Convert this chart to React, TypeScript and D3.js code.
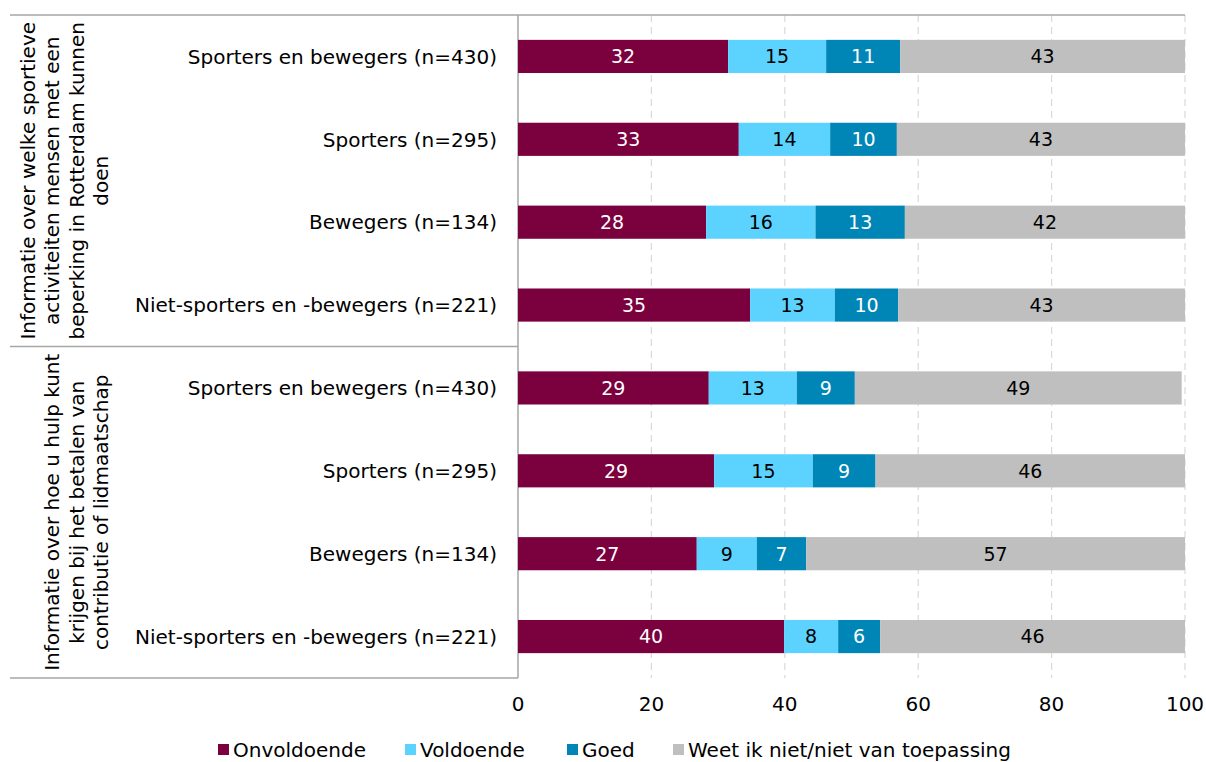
import React from 'react';
import * as d3 from 'd3';

const categories = [
  'Sporters en bewegers (n=430)',
  'Sporters (n=295)',
  'Bewegers (n=134)',
  'Niet-sporters en -bewegers (n=221)',
  'Sporters en bewegers (n=430)',
  'Sporters (n=295)',
  'Bewegers (n=134)',
  'Niet-sporters en -bewegers (n=221)',
];

const groupLabels = [
  ['Informatie over welke sportieve', 'activiteiten mensen met een', 'beperking in Rotterdam kunnen', 'doen'],
  ['Informatie over hoe u hulp kunt', 'krijgen bij het betalen van', 'contributie of lidmaatschap'],
];

const seriesNames = ['Onvoldoende', 'Voldoende', 'Goed', 'Weet ik niet/niet van toepassing'];
const seriesColors = ['#7B003E', '#5CD3FF', '#0086B6', '#BFBFBF'];
const labelColors = ['#FFFFFF', '#000000', '#FFFFFF', '#000000'];

const onvoldoende = [31.5, 33.1, 28.2, 34.8, 28.6, 29.4, 26.8, 39.9];
const voldoende = [14.7, 13.7, 16.4, 12.7, 13.2, 14.8, 9.0, 8.1];
const goed = [11.1, 10.0, 13.4, 9.5, 8.7, 9.4, 7.4, 6.3];
const weetNiet = [42.7, 43.2, 42.0, 43.0, 49.0, 46.4, 56.8, 45.7];

const ticks = [0, 20, 40, 60, 80, 100];

const FONT = '"DejaVu Sans", sans-serif';

export default function App() {
  const width = 1206;
  const height = 762;
  const left = 518;
  const right = 1185;
  const top = 15;
  const bottom = 678;

  const rows = categories.map((c, i) => ({
    key: String(i),
    [seriesNames[0]]: onvoldoende[i],
    [seriesNames[1]]: voldoende[i],
    [seriesNames[2]]: goed[i],
    [seriesNames[3]]: weetNiet[i],
  }));

  const stacked = d3.stack<any>().keys(seriesNames)(rows);

  const x = d3.scaleLinear().domain([0, 100]).range([left, right]);
  const y = d3
    .scaleBand<string>()
    .domain(rows.map((r) => r.key))
    .range([top, bottom])
    .paddingInner(0.6)
    .paddingOuter(0.3);

  const groupEdge = d3.scaleLinear().domain([0, groupLabels.length]).range([top, bottom]);

  // legend layout
  const legendX = [218, 405, 567, 673];
  const legendY = 750;

  return (
    <svg
      width={width}
      height={height}
      style={{ position: 'absolute', left: 0, top: 0, background: '#fff' }}
      fontFamily={FONT}
    >
      {/* gridlines */}
      {ticks.slice(1).map((t) => (
        <line
          key={t}
          x1={x(t)}
          x2={x(t)}
          y1={top}
          y2={bottom}
          stroke="#D9D9D9"
          strokeWidth={1.2}
          strokeDasharray="7,5"
        />
      ))}

      {/* frame lines */}
      <line x1={10} x2={right} y1={top} y2={top} stroke="#A6A6A6" strokeWidth={1.5} />
      <line x1={left} x2={left} y1={top} y2={bottom} stroke="#A6A6A6" strokeWidth={1.5} />
      {groupLabels.map((_, g) => (
        <line
          key={g}
          x1={10}
          x2={left}
          y1={groupEdge(g + 1)}
          y2={groupEdge(g + 1)}
          stroke="#A6A6A6"
          strokeWidth={1.5}
        />
      ))}

      {/* bars */}
      {stacked.map((s, si) => (
        <g key={s.key}>
          {s.map((d, i) => (
            <g key={i}>
              <rect
                x={x(d[0])}
                y={y(rows[i].key)}
                width={x(d[1]) - x(d[0])}
                height={y.bandwidth()}
                fill={seriesColors[si]}
              />
              <text
                x={(x(d[0]) + x(d[1])) / 2}
                y={(y(rows[i].key) as number) + y.bandwidth() / 2}
                dy="0.36em"
                textAnchor="middle"
                fontSize={19}
                fill={labelColors[si]}
              >
                {Math.round(d[1] - d[0])}
              </text>
            </g>
          ))}
        </g>
      ))}

      {/* category labels */}
      {categories.map((c, i) => (
        <text
          key={i}
          x={left - 21}
          y={(y(String(i)) as number) + y.bandwidth() / 2}
          dy="0.36em"
          textAnchor="end"
          fontSize={20}
          fill="#000"
        >
          {c}
        </text>
      ))}

      {/* group labels */}
      {groupLabels.map((lines, g) => {
        const cy = (groupEdge(g) + groupEdge(g + 1)) / 2;
        return (
          <g key={g}>
            {lines.map((ln, li) => {
              const bx = 108 - (lines.length - 1 - li) * 24.5;
              return (
                <text
                  key={li}
                  transform={`translate(${bx},${cy}) rotate(-90)`}
                  textAnchor="middle"
                  fontSize={20}
                  fill="#000"
                >
                  {ln}
                </text>
              );
            })}
          </g>
        );
      })}

      {/* x tick labels */}
      {ticks.map((t) => (
        <text key={t} x={x(t)} y={711} textAnchor="middle" fontSize={20} fill="#000">
          {t}
        </text>
      ))}

      {/* legend */}
      {seriesNames.map((n, i) => (
        <g key={n}>
          <rect x={legendX[i]} y={legendY - 6} width={11} height={11} fill={seriesColors[i]} />
          <text x={legendX[i] + 15} y={legendY + 7} fontSize={20} fill="#000">
            {n}
          </text>
        </g>
      ))}
    </svg>
  );
}
